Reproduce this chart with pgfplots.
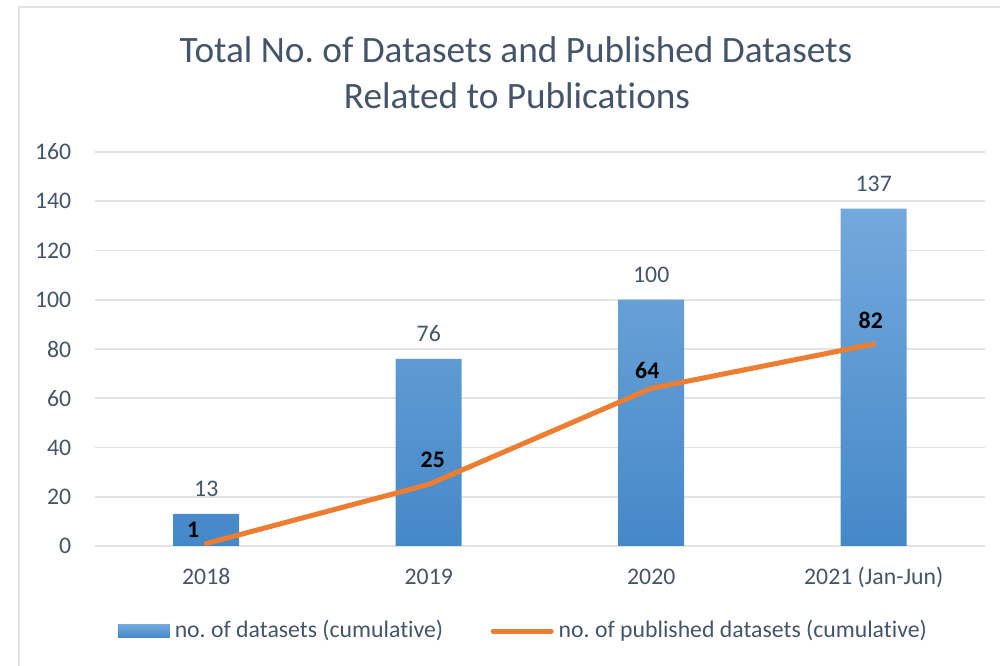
\documentclass[border=0pt]{standalone}
\usepackage{pgfplots}
\pgfplotsset{compat=1.18}
\usepackage{fontspec}
\setmainfont{Carlito}[Ligatures=NoCommon]
\frenchspacing

\definecolor{txtC}{HTML}{44546A}
\definecolor{gridC}{HTML}{E1E3E6}
\definecolor{frameC}{HTML}{E3E3E3}
\definecolor{barTop}{HTML}{73A9DC}
\definecolor{barMid}{HTML}{559CDD}
\definecolor{barBot}{HTML}{4588C8}
\definecolor{lineC}{HTML}{ED7D31}

\begin{document}
\begin{tikzpicture}
% page = 1000 x 666 px, 1 px = 0.4 pt
\path[use as bounding box] (0,0) rectangle (400pt,266.4pt);
\draw[frameC, line width=0.8pt] (7.4pt,-10pt) -- (7.4pt,263.4pt) -- (410pt,263.4pt);

\node[anchor=base, font=\fontsize{14.9}{18}\selectfont, text=txtC] at (206.4pt,241.2pt)
  {Total No. of Datasets and Published Datasets};
\node[anchor=base, font=\fontsize{14.9}{18}\selectfont, text=txtC] at (206.8pt,222.8pt)
  {Related to Publications};

\begin{axis}[
    at={(38pt,48pt)}, anchor=south west,
    scale only axis,
    width=356pt, height=157.6pt,
    xmin=-0.5, xmax=3.5,
    ymin=0, ymax=160,
    xtick={0,1,2,3},
    xticklabels={2018,2019,2020,2021 (Jan-Jun)},
    ytick distance=20,
    ymajorgrids,
    grid style={gridC, line width=0.7pt},
    axis line style={draw=none},
    tick style={draw=none},
    clip=false,
    /pgf/number format/assume math mode=true,
    tick label style={font=\fontsize{9.5}{11}\selectfont, text=txtC},
    xticklabel style={anchor=base, yshift=-15.6pt},
    yticklabel style={xshift=-6pt},
    legend style={at={(0.483,-0.216)}, anchor=center, draw=none, fill=none,
                  font=\fontsize{9.5}{11}\selectfont, text=txtC,
                  legend columns=2,
                  /tikz/every even column/.append style={column sep=17pt}},
]

% cumulative datasets
\addplot[ybar, bar width=26.4pt, draw=none,
         top color=barTop, middle color=barMid, bottom color=barBot,
         nodes near coords,
         every node near coord/.append style={anchor=base, yshift=7pt,
             font=\fontsize{9.5}{11}\selectfont, text=txtC},
         legend image code/.code={
             \shade[top color=barTop, bottom color=barBot]
               (0pt,-2.6pt) rectangle (20.8pt,2.6pt);}]
  coordinates {(0,13) (1,76) (2,100) (3,137)};
\addlegendentry{no. of datasets (cumulative)}

% cumulative published datasets
\addplot[lineC, line width=2pt, line cap=round, line join=round, mark=none,
         legend image code/.code={
             \draw[lineC, line width=2pt, line cap=round] (0pt,0pt) -- (23.2pt,0pt);}]
  coordinates {(0,1) (1,25) (2,64) (3,82)};
\addlegendentry{no. of published datasets (cumulative)}

\begin{scope}[every node/.style={anchor=base, font=\fontsize{9.5}{11}\selectfont\bfseries, text=black}]
\node[xshift=-5.2pt, yshift=2.6pt] at (axis cs:0,1) {1};
\node[xshift=1.6pt,  yshift=6.8pt] at (axis cs:1,25) {25};
\node[xshift=-1.6pt, yshift=4pt]   at (axis cs:2,64) {64};
\node[xshift=-1.2pt, yshift=6.4pt] at (axis cs:3,82) {82};
\end{scope}

\end{axis}
\end{tikzpicture}
\end{document}
